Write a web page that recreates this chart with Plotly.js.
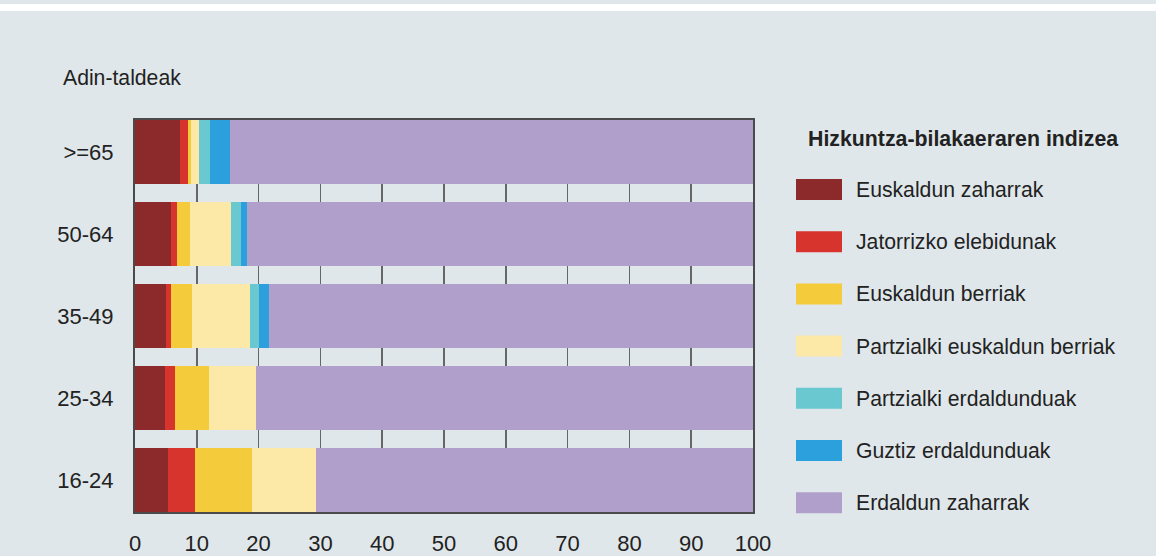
<!DOCTYPE html>
<html>
<head>
<meta charset="utf-8">
<script src="https://cdn.plot.ly/plotly-3.0.1.min.js"></script>
<style>
html,body{margin:0;padding:0;background:#e0e7ea;}
#chart{width:1156px;height:556px;}
</style>
</head>
<body>
<div id="chart"></div>
<script>
// Age groups (bottom to top)
const categories = ["16-24", "25-34", "35-49", "50-64", ">=65"];
const seriesNames = [
  "Euskaldun zaharrak",
  "Jatorrizko elebidunak",
  "Euskaldun berriak",
  "Partzialki euskaldun berriak",
  "Partzialki erdaldunduak",
  "Guztiz erdaldunduak",
  "Erdaldun zaharrak"
];
const euskaldunZaharrak   = [5.3, 4.85, 5.0, 5.8, 7.3];
const jatorrizkoElebidun  = [4.4, 1.6, 0.8, 1.0, 1.3];
const euskaldunBerriak    = [9.2, 5.6, 3.4, 2.1, 0.5];
const partzEuskBerriak    = [10.4, 7.5, 9.4, 6.6, 1.3];
const partzErdaldunduak   = [0.0, 0.0, 1.5, 1.6, 1.8];
const guztizErdaldunduak  = [0.0, 0.0, 1.6, 1.0, 3.2];
const erdaldunZaharrak    = [70.7, 80.45, 78.3, 81.9, 84.6];
const xTickVals = [0, 10, 20, 30, 40, 50, 60, 70, 80, 90, 100];

const seriesValues = [euskaldunZaharrak, jatorrizkoElebidun, euskaldunBerriak,
  partzEuskBerriak, partzErdaldunduak, guztizErdaldunduak, erdaldunZaharrak];
const colors = ["#8c2a2b", "#d7342d", "#f4cb3b", "#fce9a8", "#6ac8d0", "#2ca0dc", "#b09ecb"];

const traces = seriesNames.map((name, i) => ({
  type: "bar",
  orientation: "h",
  name: name,
  y: categories,
  x: seriesValues[i],
  marker: {color: colors[i], line: {width: 0}},
  showlegend: false,
  hoverinfo: "x+name"
}));

// Pixel helpers for layout decorations
const W = 1156, H = 556;
const L = 135, R = 753, T = 120, B = 512;
const px = v => (v - L) / (R - L);
const py = v => (B - v) / (B - T);

const shapes = [];
const annotations = [];
// top white strip
shapes.push({type: "rect", xref: "paper", yref: "paper",
  x0: px(0), x1: px(W), y0: py(11), y1: py(4),
  fillcolor: "#ffffff", line: {width: 0}, layer: "below"});

// legend
const FONT = "Liberation Sans, Arial, Helvetica, sans-serif";
annotations.push({xref: "paper", yref: "paper", x: px(806), y: py(139),
  xanchor: "left", yanchor: "middle", showarrow: false,
  text: "<b>Hizkuntza-bilakaeraren indizea</b>",
  font: {family: FONT, size: 21.3, color: "#222222"}});
seriesNames.forEach((name, i) => {
  const cy = 189.5 + i * 52.2;
  shapes.push({type: "rect", xref: "paper", yref: "paper",
    x0: px(796), x1: px(842), y0: py(cy + 10.5), y1: py(cy - 10.5),
    fillcolor: colors[i], line: {width: 0}});
  annotations.push({xref: "paper", yref: "paper", x: px(854), y: py(cy),
    xanchor: "left", yanchor: "middle", showarrow: false, text: name,
    font: {family: FONT, size: 21.2, color: "#222222"}});
});
// axis caption
annotations.push({xref: "paper", yref: "paper", x: px(61), y: py(77),
  xanchor: "left", yanchor: "middle", showarrow: false, text: "Adin-taldeak",
  font: {family: FONT, size: 21.2, color: "#222222"}});

const layout = {
  width: W, height: H,
  margin: {l: L, r: W - R, t: T, b: H - B, pad: 0},
  paper_bgcolor: "#e0e7ea",
  plot_bgcolor: "#e0e7ea",
  barmode: "stack",
  bargap: 0.22,
  showlegend: false,
  font: {family: FONT, color: "#222222"},
  xaxis: {
    range: [0, 100], tickvals: xTickVals, ticktext: xTickVals.map(String),
    showgrid: true, gridcolor: "#666666", gridwidth: 1.5,
    zeroline: false, showline: true, mirror: true,
    linecolor: "#4a4a4a", linewidth: 2,
    ticks: "", tickfont: {family: FONT, size: 22, color: "#222222"},
    ticklabelstandoff: 11, fixedrange: true
  },
  yaxis: {
    type: "category", categoryorder: "array", categoryarray: categories,
    range: [-0.39, 4.39],
    showgrid: false, zeroline: false, showline: true, mirror: true,
    linecolor: "#4a4a4a", linewidth: 2,
    ticks: "", tickfont: {family: FONT, size: 22, color: "#222222"},
    ticklabelstandoff: 15, fixedrange: true
  },
  shapes: shapes,
  annotations: annotations
};

Plotly.newPlot("chart", traces, layout, {displayModeBar: false, staticPlot: true});
</script>
</body>
</html>
